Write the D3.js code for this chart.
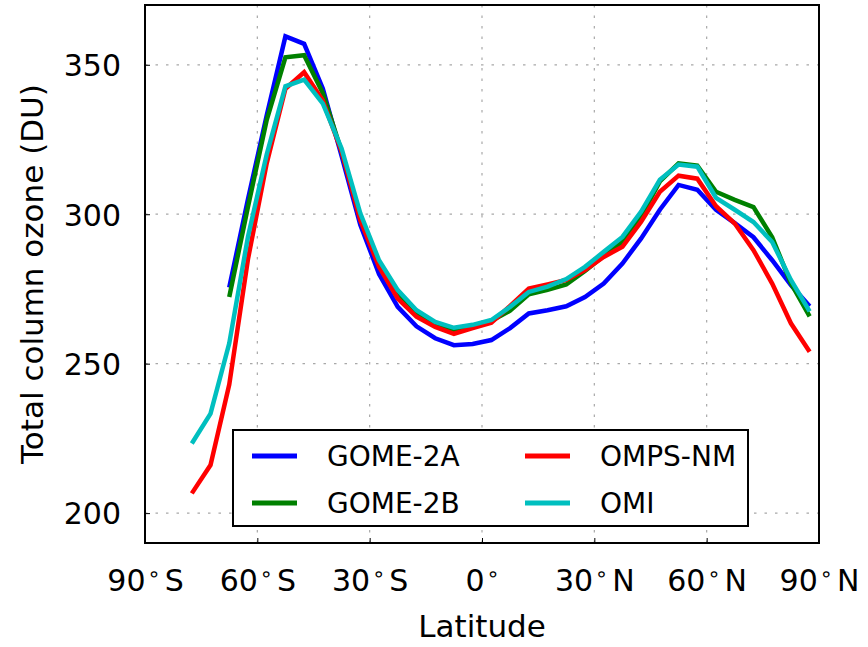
<!DOCTYPE html>
<html>
<head>
<meta charset="utf-8">
<script src="https://cdn.jsdelivr.net/npm/d3@7"></script>
<style>
  body { margin: 0; background: #fff; }
  text { font-family: "DejaVu Sans", sans-serif; fill: #000; }
</style>
</head>
<body>
<div id="viz-container"></div>
<script>
// latitude bin centres (5 degree bins)
const latitudes = [-77.5, -72.5, -67.5, -62.5, -57.5, -52.5, -47.5, -42.5, -37.5, -32.5,
    -27.5, -22.5, -17.5, -12.5, -7.5, -2.5, 2.5, 7.5, 12.5, 17.5, 22.5, 27.5,
    32.5, 37.5, 42.5, 47.5, 52.5, 57.5, 62.5, 67.5, 72.5, 77.5, 82.5, 87.5];

// null = no data
const gome2a = [null, null, 275.5, 305, 333, 359.5, 357, 342, 319.5, 296.5,
    280, 269, 262.5, 258.5, 256.2, 256.6, 257.9, 261.9, 266.8, 267.9, 269.2, 272.3,
    276.8, 283.5, 291.9, 301.5, 309.8, 308.2, 301.5, 297, 292.3, 284.6, 276.3, 269.2];

const gome2b = [null, null, 272.3, 302.5, 331.5, 352.5, 353.2, 340.5, 321, 299,
    283.5, 273, 267, 263.5, 261, 262.5, 264.3, 267.7, 273.2, 274.7, 276.5, 281,
    286, 290.8, 299.2, 311, 317, 316.3, 307.5, 304.8, 302.4, 292.3, 276.9, 265.8];

const ompsnm = [206.6, 216.1, 243, 285, 317, 342, 347.5, 338, 321, 298,
    282.4, 271.8, 265.7, 262.3, 260, 261.9, 263.7, 269.3, 275.1, 276.5, 278, 281.3,
    285.7, 289.1, 297.5, 307.5, 312.9, 311.9, 302.7, 296.9, 288, 276.8, 263.5, 254];

const omi = [223.3, 233.3, 256.8, 292.5, 320, 342.8, 345, 337, 322, 300.3,
    284.6, 274.6, 267.9, 264, 262, 263, 264.6, 269, 274, 275.8, 278.3, 282.4,
    287.4, 292.4, 300.9, 311.5, 316.6, 315.9, 305.5, 301.5, 297.4, 290.7, 278, 267.5];

const seriesNames = ["GOME-2A", "GOME-2B", "OMPS-NM", "OMI"];
const seriesValues = [gome2a, gome2b, ompsnm, omi];
const seriesColors = ["#0000ff", "#008000", "#ff0000", "#00bfbf"];

const xTicks = [-90, -60, -30, 0, 30, 60, 90];
const xTickLabels = [["90", "S"], ["60", "S"], ["30", "S"], ["0", ""], ["30", "N"], ["60", "N"], ["90", "N"]];
const yTicks = [200, 250, 300, 350];

// SVG set up
const svgW = 868, svgH = 647;
const margin = { top: 5, right: 49, bottom: 104, left: 145 },
    width = svgW - margin.left - margin.right,
    height = svgH - margin.top - margin.bottom;

const svg = d3.select("#viz-container")
    .append("svg")
    .attr("width", svgW)
    .attr("height", svgH);

const chart = svg.append("g")
    .attr("transform", `translate(${margin.left},${margin.top})`);

// scales
const x = d3.scaleLinear().domain([-90, 90]).range([0, width]);
const y = d3.scaleLinear().domain([190, 370]).range([height, 0]);

// dotted grid
chart.append("g")
    .selectAll("line")
    .data(xTicks.slice(1, -1))
    .join("line")
    .attr("x1", d => x(d)).attr("x2", d => x(d))
    .attr("y1", 0).attr("y2", height)
    .attr("stroke", "#a8a8a8").attr("stroke-width", 1.2)
    .attr("stroke-dasharray", "2.5,8");

chart.append("g")
    .selectAll("line")
    .data(yTicks)
    .join("line")
    .attr("x1", 0).attr("x2", width)
    .attr("y1", d => y(d)).attr("y2", d => y(d))
    .attr("stroke", "#a8a8a8").attr("stroke-width", 1.2)
    .attr("stroke-dasharray", "2.5,8");

// axes (inward ticks, labels done by hand for the degree sign)
const yAxis = chart.append("g")
    .call(d3.axisLeft(y).tickValues(yTicks).tickSizeInner(-5).tickSizeOuter(0).tickPadding(24));
yAxis.select(".domain").remove();
yAxis.selectAll("line").attr("stroke", "#000");
yAxis.selectAll("text")
    .attr("font-size", "30px")
    .attr("font-family", "DejaVu Sans")
    .attr("dy", "0.36em");

const xAxis = chart.append("g")
    .attr("transform", `translate(0,${height})`)
    .call(d3.axisBottom(x).tickValues(xTicks).tickSizeInner(-5).tickSizeOuter(0).tickFormat(""));
xAxis.select(".domain").remove();
xAxis.selectAll("line").attr("stroke", "#000");

const xLab = xAxis.selectAll(".tick")
    .append("text")
    .attr("y", 48)
    .attr("text-anchor", "middle")
    .attr("font-size", "30px")
    .attr("font-family", "DejaVu Sans")
    .attr("fill", "#000");
xLab.each(function (d, i) {
    const t = d3.select(this);
    t.append("tspan").text(xTickLabels[i][0]);
    t.append("tspan").attr("font-size", "21px").attr("dy", -10).attr("dx", 2).text("∘");
    if (xTickLabels[i][1]) t.append("tspan").attr("dy", 10).attr("dx", 4).text(xTickLabels[i][1]);
});

// lines
const line = d3.line()
    .defined(d => d.v != null)
    .x(d => x(d.lat))
    .y(d => y(d.v));

seriesValues.forEach((vals, i) => {
    chart.append("path")
        .datum(latitudes.map((lat, j) => ({ lat, v: vals[j] })))
        .attr("fill", "none")
        .attr("stroke", seriesColors[i])
        .attr("stroke-width", 4.5)
        .attr("stroke-linejoin", "miter")
        .attr("d", line);
});

// frame
chart.append("rect")
    .attr("width", width).attr("height", height)
    .attr("fill", "none").attr("stroke", "#000").attr("stroke-width", 2);

// legend
const legend = chart.append("g")
    .attr("transform", `translate(${233 - margin.left},${430 - margin.top})`);
legend.append("rect")
    .attr("width", 515).attr("height", 96)
    .attr("fill", "#fff").attr("stroke", "#000").attr("stroke-width", 2);
seriesNames.forEach((name, i) => {
    const col = Math.floor(i / 2), row = i % 2;
    const g = legend.append("g")
        .attr("transform", `translate(${19 + col * 273},${26 + row * 47})`);
    g.append("line")
        .attr("x1", 0).attr("x2", 45)
        .attr("stroke", seriesColors[i]).attr("stroke-width", 5);
    g.append("text")
        .attr("x", 75)
        .attr("dy", "0.36em")
        .attr("font-size", "28px")
        .text(name);
});

// axis titles
svg.append("text")
    .attr("x", margin.left + width / 2)
    .attr("y", 637)
    .attr("text-anchor", "middle")
    .attr("font-size", "31px")
    .text("Latitude");

svg.append("text")
    .attr("transform", `translate(43,${margin.top + height / 2}) rotate(-90)`)
    .attr("text-anchor", "middle")
    .attr("font-size", "31px")
    .text("Total column ozone (DU)");
</script>
</body>
</html>
